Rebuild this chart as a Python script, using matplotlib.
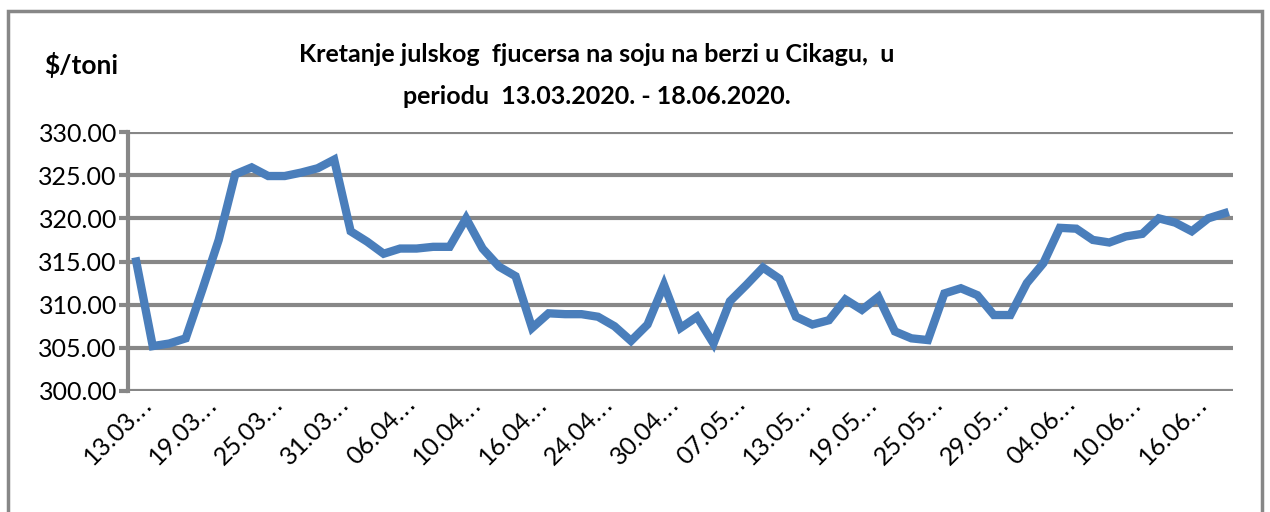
import matplotlib
matplotlib.use("Agg")
import matplotlib.pyplot as plt
import matplotlib.transforms as mtransforms
from matplotlib.patches import Rectangle

# datumi trgovanja (julski fjucers soje, CBOT)
datumi = [
    "13.03.2020.", "16.03.2020.", "17.03.2020.", "18.03.2020.", "19.03.2020.",
    "20.03.2020.", "23.03.2020.", "24.03.2020.", "25.03.2020.", "26.03.2020.",
    "27.03.2020.", "30.03.2020.", "31.03.2020.", "01.04.2020.", "02.04.2020.",
    "03.04.2020.", "06.04.2020.", "07.04.2020.", "08.04.2020.", "09.04.2020.",
    "10.04.2020.", "13.04.2020.", "14.04.2020.", "15.04.2020.", "16.04.2020.",
    "21.04.2020.", "22.04.2020.", "23.04.2020.", "24.04.2020.", "27.04.2020.",
    "28.04.2020.", "29.04.2020.", "30.04.2020.", "04.05.2020.", "05.05.2020.",
    "06.05.2020.", "07.05.2020.", "08.05.2020.", "11.05.2020.", "12.05.2020.",
    "13.05.2020.", "14.05.2020.", "15.05.2020.", "18.05.2020.", "19.05.2020.",
    "20.05.2020.", "21.05.2020.", "22.05.2020.", "25.05.2020.", "26.05.2020.",
    "27.05.2020.", "28.05.2020.", "29.05.2020.", "01.06.2020.", "02.06.2020.",
    "03.06.2020.", "04.06.2020.", "05.06.2020.", "08.06.2020.", "09.06.2020.",
    "10.06.2020.", "11.06.2020.", "12.06.2020.", "15.06.2020.", "16.06.2020.",
    "17.06.2020.", "18.06.2020.",
]

# cijena u $/toni
cijene = [
    315.0, 305.2, 305.5, 306.1, 311.7, 317.5, 325.1, 325.9, 324.9, 324.9,
    325.3, 325.8, 326.8, 318.5, 317.3, 315.9, 316.5, 316.5, 316.7, 316.7,
    320.0, 316.5, 314.4, 313.3, 307.3, 309.0, 308.9, 308.9, 308.6, 307.5,
    305.8, 307.7, 312.3, 307.3, 308.6, 305.5, 310.4, 312.3, 314.3, 313.0,
    308.6, 307.7, 308.2, 310.6, 309.4, 310.9, 306.9, 306.1, 305.9, 311.3,
    311.9, 311.1, 308.8, 308.8, 312.5, 314.8, 318.9, 318.8, 317.5, 317.2,
    317.9, 318.2, 320.0, 319.5, 318.5, 320.0, 320.6,
]

y_oznake = [300, 305, 310, 315, 320, 325, 330]
naslov = "Kretanje julskog  fjucersa na soju na berzi u Cikagu,  u"
naslov2 = "periodu  13.03.2020. - 18.06.2020."

plt.rcParams['font.family'] = ['Lato', 'DejaVu Sans']
siva = '#878787'
plava = '#4a7ebb'

fig = plt.figure(figsize=(12.7, 5.12), dpi=100)
ax = fig.add_axes([128 / 1270, 1 - 391 / 512, (1233 - 128) / 1270, (391 - 132) / 512])

x = list(range(len(cijene)))
ax.plot(x, cijene, color=plava, lw=6, solid_joinstyle='miter', zorder=3)

ax.set_ylim(300, 330)
ax.set_xlim(-0.5, len(cijene) - 0.5)
ax.set_yticks(y_oznake)
ax.set_yticklabels(["%.2f" % v for v in y_oznake], fontsize=18)
ax.yaxis.grid(True, color=siva, lw=3)
ax.tick_params(axis='y', length=6.5, width=3, color=siva, pad=1.5)

tick_pos = x[::4]
ax.set_xticks(tick_pos)
ax.set_xticklabels([d[:6] + "‥" for d in datumi[::4]], fontsize=18,
                   rotation=45, ha='right', va='center', rotation_mode='anchor')
ax.tick_params(axis='x', length=0, pad=6)
pomak = mtransforms.ScaledTranslation(12 / 100, 0, fig.dpi_scale_trans)
for lab in ax.get_xticklabels():
    lab.set_transform(lab.get_transform() + pomak)

for s in ['top', 'right', 'bottom']:
    ax.spines[s].set_visible(False)
ax.spines['left'].set_color(siva)
ax.spines['left'].set_linewidth(3)

# okvir oko grafikona
fig.patches.append(Rectangle((8 / 1270, -0.1), (1262 - 8) / 1270, 1.1 - 11 / 512,
                             transform=fig.transFigure, fill=False,
                             edgecolor=siva, lw=2.5))

fig.text(81 / 1270, 1 - 65 / 512, "$/toni", fontsize=19, fontweight='bold',
         ha='center', va='center')
fig.text(597 / 1270, 1 - 55 / 512, naslov, fontsize=18, fontweight='bold',
         ha='center', va='center')
fig.text(597 / 1270, 1 - 97 / 512, naslov2, fontsize=18, fontweight='bold',
         ha='center', va='center')

fig.savefig("out.png", dpi=100)
